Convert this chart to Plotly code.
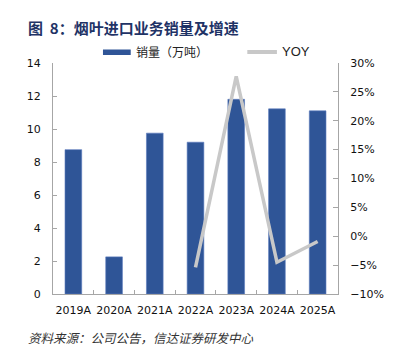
import plotly.graph_objects as go

categories = ["2019A", "2020A", "2021A", "2022A", "2023A", "2024A", "2025A"]
sales = [8.75, 2.25, 9.75, 9.2, 11.8, 11.22, 11.1]
yoy_categories = ["2022A", "2023A", "2024A", "2025A"]
yoy = [-0.054, 0.277, -0.045, -0.009]

W, H = 396, 348
L, R, T, B = 53, 35, 63, 54
pw, ph = W - L - R, H - T - B

def px(x):
    return (x - L) / pw

def py(y):
    return (H - B - y) / ph

tick_font = dict(family="DejaVu Sans, Verdana, sans-serif", size=11, color="#111111")
cjk = "Noto Sans CJK SC, sans-serif"

fig = go.Figure()
fig.add_trace(go.Bar(x=categories, y=sales, marker=dict(color="#2f5597", line=dict(color="#5a7bbd", width=0.6)),
                     name="销量（万吨）", yaxis="y"))
fig.add_trace(go.Scatter(x=yoy_categories, y=yoy, mode="lines", line=dict(color="#c8c8c8", width=3.5),
                         name="YOY", yaxis="y2"))

fig.update_layout(
    width=W, height=H,
    margin=dict(l=L, r=R, t=T, b=B, pad=0),
    paper_bgcolor="white", plot_bgcolor="white",
    showlegend=False,
    bargap=0.59,
    xaxis=dict(categoryorder="array", categoryarray=categories, showline=True, linecolor="#a6a6a6", linewidth=1,
               ticks="inside", ticklen=4, tickcolor="#a6a6a6", tickson="boundaries", tickfont=tick_font,
               tickangle=0, ticklabelstandoff=6, showgrid=False, zeroline=False, fixedrange=True),
    yaxis=dict(range=[0, 14], dtick=2, showline=True, linecolor="#a6a6a6", linewidth=1, ticks="inside",
               ticklen=4, tickcolor="#a6a6a6", tickfont=tick_font, ticklabelstandoff=9, showgrid=False,
               zeroline=False),
    yaxis2=dict(range=[-0.10, 0.30], dtick=0.05, tickformat=".0%", overlaying="y", side="right", showline=True,
                linecolor="#a6a6a6", linewidth=1, ticks="inside", ticklen=5, tickcolor="#a6a6a6",
                tickfont=tick_font, ticklabelstandoff=9, showgrid=False, zeroline=False),
)

# Title
fig.add_annotation(text="<b>图  8：烟叶进口业务销量及增速</b>", xref="paper", yref="paper",
                   x=px(24), y=py(28), xanchor="left", yanchor="middle", showarrow=False,
                   font=dict(family=cjk, size=15, color="#1f3366"))

# Legend
fig.add_shape(type="rect", xref="paper", yref="paper", x0=px(107), x1=px(137), y0=py(55), y1=py(49.5),
              fillcolor="#2f5597", line=dict(width=0))
fig.add_annotation(text="销量（万吨）", xref="paper", yref="paper", x=px(140), y=py(52),
                   xanchor="left", yanchor="middle", showarrow=False,
                   font=dict(family=cjk, size=12, color="#222222"))
fig.add_shape(type="line", xref="paper", yref="paper", x0=px(263), x1=px(295), y0=py(52), y1=py(52),
              line=dict(color="#c8c8c8", width=4))
fig.add_annotation(text="YOY", xref="paper", yref="paper", x=px(298), y=py(52),
                   xanchor="left", yanchor="middle", showarrow=False,
                   font=dict(family="Liberation Sans, Arial, sans-serif", size=13, color="#222222"))

# Source
fig.add_annotation(text="<i>资料来源：公司公告，信达证券研发中心</i>", xref="paper", yref="paper",
                   x=px(24), y=py(337), xanchor="left", yanchor="middle", showarrow=False,
                   font=dict(family=cjk, size=12.5, color="#333333"))

fig.write_html("out.html")
